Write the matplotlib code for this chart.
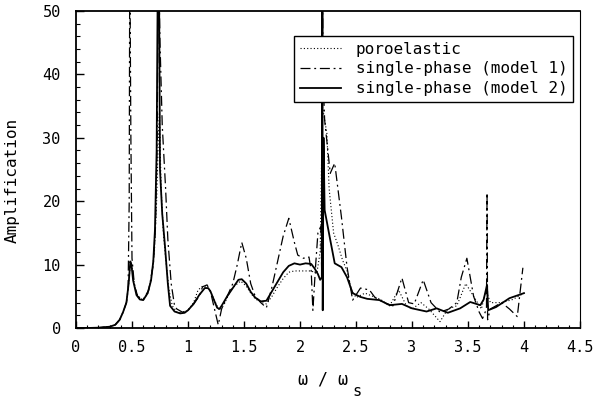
import matplotlib
matplotlib.use("Agg")
import matplotlib.pyplot as plt
from matplotlib.ticker import MultipleLocator

# ---------------- data ----------------
x_model2 = [0.0, 0.1, 0.2, 0.3, 0.35, 0.39, 0.42, 0.45, 0.47, 0.485, 0.495, 0.51, 0.54, 0.57, 0.6,
            0.64, 0.67, 0.69, 0.705, 0.72, 0.73, 0.74, 0.75, 0.77, 0.795, 0.82, 0.84, 0.88, 0.93,
            0.97, 1.0, 1.05, 1.1, 1.15, 1.18, 1.2, 1.23, 1.26, 1.28, 1.3, 1.35, 1.4, 1.45, 1.48,
            1.52, 1.56, 1.6, 1.65, 1.7, 1.75, 1.8, 1.85, 1.9, 1.95, 2.0, 2.05, 2.1, 2.13, 2.16,
            2.18, 2.195, 2.2, 2.203, 2.21, 2.22, 2.27, 2.31, 2.37, 2.42, 2.47, 2.54, 2.6, 2.71,
            2.8, 2.91, 3.0, 3.13, 3.22, 3.32, 3.43, 3.52, 3.61, 3.64, 3.67, 3.68, 3.75, 3.87, 4.0]
y_model2 = [0.0, 0.0, 0.05, 0.2, 0.5, 1.3, 2.5, 4.0, 7.0, 10.5, 10.0, 7.5, 5.2, 4.5, 4.4,
            5.5, 7.5, 10.5, 15.5, 28.0, 55.0, 60.0, 25.0, 18.0, 12.8, 7.0, 3.5, 2.6, 2.3,
            2.4, 2.8, 3.8, 5.2, 6.3, 6.3, 5.8, 4.5, 3.2, 3.0, 3.5, 5.0, 6.3, 7.6, 7.7,
            7.0, 5.7, 4.8, 4.2, 4.3, 5.8, 7.3, 8.8, 9.8, 10.2, 10.0, 10.2, 10.1, 9.4, 8.5,
            7.6, 8.0, 60.0, 2.8, 30.0, 18.6, 13.9, 10.2, 9.6, 8.0, 5.5, 4.9, 4.6, 4.4,
            3.6, 3.8, 3.1, 2.6, 3.1, 2.4, 3.1, 4.1, 3.6, 4.5, 6.8, 2.8, 3.3, 4.7, 5.5]

x_model1 = [0.0, 0.1, 0.2, 0.3, 0.35, 0.39, 0.42, 0.45, 0.465, 0.475, 0.48, 0.49, 0.5, 0.52, 0.55,
            0.6, 0.65, 0.69, 0.71, 0.725, 0.735, 0.75, 0.77, 0.8, 0.82, 0.85, 0.88, 0.9, 0.95,
            1.0, 1.05, 1.1, 1.13, 1.17, 1.2, 1.23, 1.27, 1.3, 1.35, 1.4, 1.44, 1.48, 1.52, 1.56,
            1.6, 1.65, 1.7, 1.75, 1.8, 1.85, 1.9, 1.95, 1.98, 2.03, 2.08, 2.1, 2.115, 2.14, 2.16,
            2.185, 2.195, 2.2, 2.205, 2.22, 2.27, 2.31, 2.37, 2.42, 2.47, 2.54, 2.62, 2.67, 2.75,
            2.83, 2.91, 2.97, 3.02, 3.1, 3.17, 3.25, 3.33, 3.4, 3.44, 3.49, 3.55, 3.6, 3.63, 3.665,
            3.67, 3.675, 3.7, 3.8, 3.87, 3.94, 3.99]
y_model1 = [0.0, 0.0, 0.05, 0.2, 0.5, 1.3, 2.5, 4.0, 6.0, 20.0, 60.0, 30.0, 11.0, 7.0, 5.0,
            4.5, 6.0, 10.0, 16.0, 30.0, 60.0, 45.0, 32.0, 22.0, 14.0, 7.0, 3.5, 3.0, 2.5,
            2.8, 3.8, 5.0, 6.5, 6.8, 5.8, 3.5, 0.5, 3.0, 5.0, 7.0, 10.0, 13.5, 11.0, 7.0,
            5.0, 4.0, 3.2, 6.5, 10.5, 14.5, 17.3, 13.5, 11.5, 11.0, 11.2, 9.0, 2.8, 10.0, 15.0,
            16.0, 8.0, 60.0, 40.0, 32.8, 24.4, 26.0, 17.5, 9.6, 4.4, 6.3, 6.0, 4.8, 4.0,
            3.5, 7.9, 4.0, 3.8, 7.6, 4.0, 2.5, 3.0, 4.0, 8.0, 11.0, 5.0, 2.5, 1.5, 3.0,
            21.3, 1.3, 3.0, 4.0, 3.0, 1.8, 9.5]

x_poro = [0.0, 0.1, 0.2, 0.3, 0.35, 0.39, 0.42, 0.45, 0.47, 0.485, 0.5, 0.52, 0.55, 0.6, 0.64,
          0.67, 0.7, 0.72, 0.735, 0.745, 0.76, 0.78, 0.8, 0.83, 0.86, 0.9, 0.95, 1.0, 1.05,
          1.09, 1.13, 1.17, 1.2, 1.24, 1.28, 1.32, 1.36, 1.4, 1.47, 1.52, 1.56, 1.6, 1.66,
          1.7, 1.75, 1.8, 1.85, 1.9, 1.95, 2.0, 2.05, 2.1, 2.15, 2.18, 2.2, 2.24, 2.26, 2.3,
          2.34, 2.38, 2.42, 2.46, 2.5, 2.58, 2.65, 2.72, 2.8, 2.88, 2.95, 3.0, 3.08, 3.15, 3.25,
          3.32, 3.4, 3.48, 3.55, 3.62, 3.66, 3.7, 3.8, 3.9, 4.0]
y_poro = [0.0, 0.0, 0.05, 0.2, 0.5, 1.3, 2.5, 4.0, 7.0, 10.0, 9.5, 7.0, 5.0, 4.4, 5.5,
          7.5, 12.0, 20.0, 30.0, 34.0, 22.0, 15.0, 11.0, 6.0, 3.5, 2.5, 2.4, 2.8, 4.0,
          6.0, 6.6, 6.4, 5.8, 4.2, 2.8, 3.6, 5.2, 6.4, 7.4, 6.6, 5.5, 4.6, 4.0,
          3.8, 5.0, 6.5, 7.8, 8.8, 9.0, 9.0, 9.0, 9.0, 8.6, 12.0, 35.0, 30.7, 22.0, 15.0,
          13.0, 10.7, 9.0, 6.0, 4.8, 5.5, 5.0, 4.5, 3.5, 6.0, 3.5, 3.0, 4.0, 3.0, 1.0,
          3.0, 3.5, 7.0, 5.0, 3.0, 6.0, 4.0, 4.0, 4.5, 5.5]

labels = ["poroelastic", "single-phase (model 1)", "single-phase (model 2)"]
x_ticks = [0, 0.5, 1, 1.5, 2, 2.5, 3, 3.5, 4, 4.5]
x_tick_labels = ["0", "0.5", "1", "1.5", "2", "2.5", "3", "3.5", "4", "4.5"]
y_ticks = [0, 10, 20, 30, 40, 50]

# ---------------- figure ----------------
plt.rcParams["font.family"] = "DejaVu Sans Mono"

fig = plt.figure(figsize=(5.93, 4.01), dpi=100)
ax = fig.add_axes([76 / 593, 1 - 328 / 401, (580 - 76) / 593, (328 - 11) / 401])

ax.plot(x_poro, y_poro, color="black", lw=0.8, linestyle=(0, (1, 2)), label=labels[0])
ax.plot(x_model1, y_model1, color="black", lw=0.9, linestyle=(0, (8, 3, 1.5, 3)), label=labels[1])
ax.plot(x_model2, y_model2, color="black", lw=1.3, linestyle="-", label=labels[2])

ax.set_xlim(0, 4.5)
ax.set_ylim(0, 50)
ax.set_xticks(x_ticks)
ax.set_xticklabels(x_tick_labels)
ax.set_yticks(y_ticks)
ax.xaxis.set_minor_locator(MultipleLocator(0.1))
ax.yaxis.set_minor_locator(MultipleLocator(2))
ax.tick_params(axis="x", which="major", direction="in", length=5, width=1, pad=9, labelsize=11)
ax.tick_params(axis="x", which="minor", direction="in", length=2.5, width=0.8)
ax.tick_params(axis="y", which="major", direction="in", length=6, width=1, pad=11, labelsize=11)
ax.tick_params(axis="y", which="minor", direction="in", length=3, width=0.8)
ax.tick_params(top=False, right=False, which="both")
for side in ["left", "bottom", "top"]:
    ax.spines[side].set_linewidth(1.3)
ax.spines["right"].set_linewidth(0.8)

fig.text(12 / 593, 1 - 180 / 401, "Amplification", rotation=90, ha="center", va="center",
         fontsize=11.5)
fig.text(323 / 593, 1 - 380 / 401, "ω / ω", ha="center", va="center", fontsize=12)
fig.text(357 / 593, 1 - 392 / 401, "s", ha="center", va="center", fontsize=11)

leg = ax.legend(loc="upper right", bbox_to_anchor=((573 - 76) / 504, (328 - 36) / 317),
                frameon=True, fancybox=False, edgecolor="black", fontsize=11.5,
                handlelength=2.6, handletextpad=0.9, labelspacing=0.3, borderpad=0.35,
                borderaxespad=0)
leg.get_frame().set_linewidth(1.0)
leg.get_frame().set_alpha(1)

fig.savefig("out.png", dpi=100)
